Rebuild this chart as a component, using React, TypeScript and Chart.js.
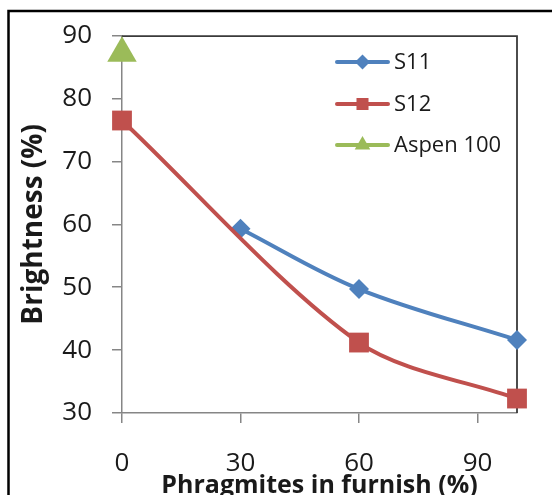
import React, { useEffect, useRef } from "react";
import { Chart, registerables } from "chart.js";

Chart.register(...registerables);

// Phragmites share in the furnish (%) and the resulting brightness (%)
const s11X = [30, 60, 100];
const s11Y = [59.3, 49.7, 41.6];
const s12X = [0, 60, 100];
const s12Y = [76.5, 41.2, 32.3];
const aspenX = [0];
const aspenY = [87.2];

const xTicks = [0, 30, 60, 90];
const yMin = 30;
const yMax = 90;
const yStep = 10;

const seriesNames = ["S11", "S12", "Aspen 100"];
const BLUE = "#4F81BD";
const RED = "#C0504D";
const GREEN = "#9BBB59";

const FONT = "'Open Sans', 'DejaVu Sans', sans-serif";
const TEXT = "#1a1a1a";
const AXIS = "#868686";

const toPoints = (xs: number[], ys: number[]) => xs.map((x, i) => ({ x, y: ys[i] }));

function drawMarker(ctx: CanvasRenderingContext2D, style: string, x: number, y: number, r: number, color: string) {
  ctx.save();
  ctx.fillStyle = color;
  ctx.beginPath();
  if (style === "rect") {
    const s = Math.SQRT1_2 * r;
    ctx.rect(x - s, y - s, 2 * s, 2 * s);
  } else if (style === "rectRot") {
    ctx.moveTo(x - r, y);
    ctx.lineTo(x, y - r);
    ctx.lineTo(x + r, y);
    ctx.lineTo(x, y + r);
    ctx.closePath();
  } else {
    const a = (2 * Math.PI) / 3;
    ctx.moveTo(x, y - r);
    ctx.lineTo(x + Math.sin(a) * r, y - Math.cos(a) * r);
    ctx.lineTo(x + Math.sin(2 * a) * r, y - Math.cos(2 * a) * r);
    ctx.closePath();
  }
  ctx.fill();
  ctx.restore();
}

// Outer frame, plot box edges and the in-plot legend
const decorations = {
  id: "decorations",
  beforeDatasetsDraw(chart: any) {
    const { ctx, chartArea } = chart;
    ctx.save();
    ctx.strokeStyle = "#000";
    ctx.lineWidth = 2.5;
    ctx.beginPath();
    ctx.moveTo(8.5, chart.height + 5);
    ctx.lineTo(8.5, 11);
    ctx.lineTo(chart.width + 5, 11);
    ctx.stroke();

    ctx.strokeStyle = "#3a3a3a";
    ctx.lineWidth = 1.8;
    ctx.beginPath();
    ctx.moveTo(chartArea.left, chartArea.top + 0.5);
    ctx.lineTo(chartArea.right, chartArea.top + 0.5);
    ctx.lineTo(chartArea.right, chartArea.bottom);
    ctx.stroke();
    ctx.restore();
  },
  afterDatasetsDraw(chart: any) {
    const { ctx } = chart;
    const items = [
      { name: seriesNames[0], color: BLUE, style: "rectRot", r: 7.5 },
      { name: seriesNames[1], color: RED, style: "rect", r: 8.5 },
      { name: seriesNames[2], color: GREEN, style: "triangle", r: 9 },
    ];
    const x0 = 337;
    const x1 = 388;
    const rowY = [62, 104, 145];
    ctx.save();
    items.forEach((it, i) => {
      const y = rowY[i];
      ctx.strokeStyle = it.color;
      ctx.lineWidth = 4;
      ctx.lineCap = "round";
      ctx.beginPath();
      ctx.moveTo(x0, y);
      ctx.lineTo(x1, y);
      ctx.stroke();
      drawMarker(ctx, it.style, (x0 + x1) / 2, y, it.r, it.color);
      ctx.fillStyle = TEXT;
      ctx.font = `22px ${FONT}`;
      ctx.textBaseline = "middle";
      ctx.textAlign = "left";
      ctx.fillText(it.name, 394, y + 1);
    });
    ctx.restore();
  },
};

export default function App() {
  const canvasRef = useRef<HTMLCanvasElement | null>(null);

  useEffect(() => {
    document.body.style.margin = "0";
    document.body.style.overflow = "hidden";
    const canvas = canvasRef.current;
    if (!canvas) return;
    const chart = new Chart(canvas, {
      type: "line",
      data: {
        datasets: [
          {
            label: seriesNames[0],
            data: toPoints(s11X, s11Y),
            borderColor: BLUE,
            backgroundColor: BLUE,
            borderWidth: 4,
            pointStyle: "rectRot",
            pointRadius: 10,
            pointBorderWidth: 0,
            tension: 0.35,
            clip: false,
            order: 2,
          },
          {
            label: seriesNames[1],
            data: toPoints(s12X, s12Y),
            borderColor: RED,
            backgroundColor: RED,
            borderWidth: 4,
            pointStyle: "rect",
            pointRadius: 14,
            pointBorderWidth: 0,
            tension: 0.3,
            clip: false,
            order: 1,
          },
          {
            label: seriesNames[2],
            data: toPoints(aspenX, aspenY),
            borderColor: GREEN,
            backgroundColor: GREEN,
            borderWidth: 4,
            pointStyle: "triangle",
            pointRadius: 17,
            pointBorderWidth: 0,
            clip: false,
            order: 0,
          },
        ],
      },
      options: {
        animation: false,
        responsive: false,
        devicePixelRatio: 1,
        layout: { padding: { left: 0, top: 33, right: 35, bottom: 0 } },
        plugins: {
          legend: { display: false },
          tooltip: { enabled: false },
        },
        scales: {
          x: {
            type: "linear",
            min: 0,
            max: 100,
            afterBuildTicks: (scale: any) => {
              scale.ticks = xTicks.map((v) => ({ value: v }));
            },
            afterFit: (scale: any) => {
              scale.height = 82;
            },
            grid: { display: true, drawOnChartArea: false, drawTicks: true, tickLength: 10, color: AXIS, lineWidth: 1.5 },
            border: { display: true, color: AXIS, width: 1.5 },
            ticks: { font: { family: FONT, size: 26 }, color: TEXT, padding: 25, maxRotation: 0 },
            title: {
              display: true,
              text: "Phragmites in furnish (%)",
              font: { family: FONT, size: 25, weight: "bold" },
              color: TEXT,
              padding: { top: 0, bottom: -6 },
            },
          },
          y: {
            type: "linear",
            min: yMin,
            max: yMax,
            afterFit: (scale: any) => {
              scale.width = 122;
            },
            grid: { display: true, drawOnChartArea: false, drawTicks: true, tickLength: 10, color: AXIS, lineWidth: 1.5 },
            border: { display: true, color: AXIS, width: 1.5 },
            ticks: { stepSize: yStep, font: { family: FONT, size: 26 }, color: TEXT, padding: 20 },
            title: {
              display: true,
              text: "Brightness (%)",
              font: { family: FONT, size: 28, weight: "bold" },
              color: TEXT,
              padding: { top: 17, bottom: 0 },
            },
          },
        },
      },
      plugins: [decorations],
    });
    return () => chart.destroy();
  }, []);

  return (
    <div style={{ position: "fixed", left: 0, top: 0, width: 552, height: 495, overflow: "hidden", background: "#fff" }}>
      <canvas ref={canvasRef} width={552} height={495} style={{ display: "block" }} />
    </div>
  );
}
